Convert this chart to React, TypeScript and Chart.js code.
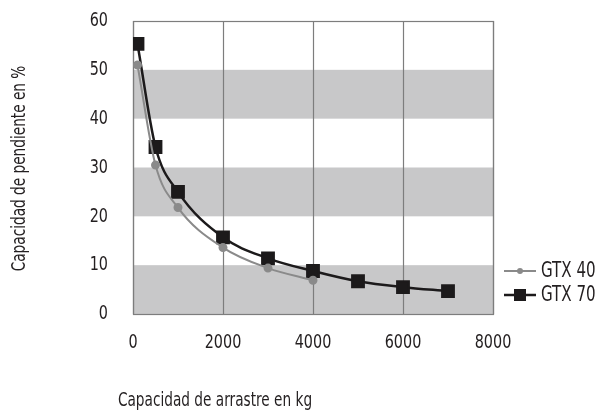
import React, { useEffect, useRef } from "react";
import { Chart, registerables } from "chart.js";

Chart.register(...registerables);

const gtx40X = [100, 500, 1000, 2000, 3000, 4000];
const gtx40Y = [51, 30.5, 21.8, 13.6, 9.4, 6.9];
const gtx70X = [100, 500, 1000, 2000, 3000, 4000, 5000, 6000, 7000];
const gtx70Y = [55.3, 34.2, 25, 15.7, 11.4, 8.8, 6.7, 5.5, 4.7];
const seriesNames = ["GTX 40", "GTX 70"];
const bandRanges = [
  [0, 10],
  [20, 30],
  [40, 50],
];
const xTitle = "Capacidad de arrastre en kg";
const yTitle = "Capacidad de pendiente en %";

const FONT = "'Liberation Sans Narrow', 'DejaVu Sans Condensed', sans-serif";
const C40 = "#8a8a8a";
const C70 = "#1c1a1b";
const TXT = "#231f20";
const SX = 0.8;

function narrowText(ctx: any, text: string, x: number, y: number, size: number, align: string) {
  ctx.save();
  ctx.font = `${size}px ${FONT}`;
  ctx.textAlign = align;
  ctx.textBaseline = "middle";
  ctx.fillStyle = TXT;
  ctx.translate(x, y);
  ctx.scale(SX, 1);
  ctx.fillText(text, 0, 0);
  ctx.restore();
}

export default function App() {
  const ref = useRef<HTMLCanvasElement | null>(null);
  useEffect(() => {
    document.body.style.margin = "0";
    const canvas = ref.current!;
    const deco = {
      id: "deco",
      beforeDatasetsDraw(chart: any) {
        const { ctx, chartArea, scales } = chart;
        const y = scales.y;
        ctx.save();
        ctx.fillStyle = "#c8c8c9";
        bandRanges.forEach(([a, b]) => {
          const y1 = y.getPixelForValue(b);
          const y2 = y.getPixelForValue(a);
          ctx.fillRect(chartArea.left, y1, chartArea.right - chartArea.left, y2 - y1);
        });
        const x = scales.x;
        ctx.strokeStyle = "#7d7d7d";
        ctx.lineWidth = 1.2;
        x.ticks.forEach((t: any) => {
          const px = Math.round(x.getPixelForValue(t.value)) + 0.5;
          ctx.beginPath();
          ctx.moveTo(px, chartArea.top);
          ctx.lineTo(px, chartArea.bottom);
          ctx.stroke();
        });
        ctx.strokeRect(
          Math.round(chartArea.left) + 0.5,
          Math.round(chartArea.top) + 0.5,
          Math.round(chartArea.right - chartArea.left),
          Math.round(chartArea.bottom - chartArea.top)
        );
        ctx.restore();
      },
      afterDraw(chart: any) {
        const { ctx, chartArea, scales } = chart;
        scales.x.ticks.forEach((t: any) => {
          narrowText(ctx, String(t.value), scales.x.getPixelForValue(t.value), chartArea.bottom + 29, 20, "center");
        });
        scales.y.ticks.forEach((t: any) => {
          narrowText(ctx, String(t.value), chartArea.left - 25, scales.y.getPixelForValue(t.value), 20, "right");
        });
        narrowText(ctx, xTitle, 215, 401, 19, "center");
        ctx.save();
        ctx.translate(20, (chartArea.top + chartArea.bottom) / 2 + 1);
        ctx.rotate(-Math.PI / 2);
        narrowText(ctx, yTitle, 0, 0, 19, "center");
        ctx.restore();
        const items = [
          { name: seriesNames[0], color: C40, y: 271, w: 2, style: "circle" },
          { name: seriesNames[1], color: C70, y: 295, w: 2.5, style: "rect" },
        ];
        ctx.save();
        items.forEach((it) => {
          ctx.strokeStyle = it.color;
          ctx.lineWidth = it.w;
          ctx.beginPath();
          ctx.moveTo(504, it.y);
          ctx.lineTo(536, it.y);
          ctx.stroke();
          ctx.fillStyle = it.color;
          if (it.style === "circle") {
            ctx.beginPath();
            ctx.arc(520, it.y, 3, 0, Math.PI * 2);
            ctx.fill();
          } else {
            ctx.fillRect(514, it.y - 6, 12, 12);
          }
          narrowText(ctx, it.name, 541, it.y + 1, 21, "left");
        });
        ctx.restore();
      },
    };
    const chart = new Chart(canvas, {
      type: "line",
      data: {
        datasets: [
          {
            label: seriesNames[0],
            data: gtx40X.map((x, i) => ({ x, y: gtx40Y[i] })),
            borderColor: C40,
            backgroundColor: C40,
            borderWidth: 2,
            pointRadius: 3.5,
            pointStyle: "circle",
            cubicInterpolationMode: "monotone",
          },
          {
            label: seriesNames[1],
            data: gtx70X.map((x, i) => ({ x, y: gtx70Y[i] })),
            borderColor: C70,
            backgroundColor: C70,
            borderWidth: 2.5,
            pointRadius: 8,
            pointStyle: "rect",
            cubicInterpolationMode: "monotone",
          },
        ],
      },
      options: {
        animation: false,
        responsive: false,
        layout: { padding: { left: 0, right: 108, top: 21, bottom: 0 } },
        plugins: { legend: { display: false }, tooltip: { enabled: false } },
        scales: {
          x: {
            type: "linear",
            min: 0,
            max: 8000,
            ticks: {
              stepSize: 2000,
              padding: 0,
              color: "rgba(0,0,0,0)",
              font: { family: FONT, size: 12 },
              callback: (v: any) => String(v),
            },
            grid: { display: false, drawTicks: false },
            border: { display: false },
            afterFit: (s: any) => {
              s.height = 100;
            },
          },
          y: {
            min: 0,
            max: 60,
            ticks: {
              stepSize: 10,
              padding: 0,
              color: "rgba(0,0,0,0)",
              font: { family: FONT, size: 12 },
            },
            grid: { display: false, drawTicks: false },
            border: { display: false },
            afterFit: (s: any) => {
              s.width = 133;
            },
          },
        },
      },
      plugins: [deco],
    } as any);
    return () => chart.destroy();
  }, []);
  return <canvas ref={ref} width={601} height={414} style={{ display: "block" }} />;
}
